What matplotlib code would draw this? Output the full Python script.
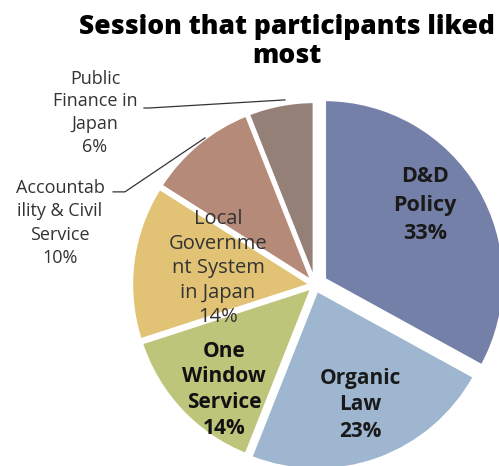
import matplotlib.pyplot as plt
import numpy as np

sessions = ["D&D Policy", "Organic Law", "One Window Service",
            "Local Government System in Japan",
            "Accountability & Civil Service", "Public Finance in Japan"]
shares = [33, 23, 14, 14, 10, 6]

colors = ["#7480a8", "#9eb6cf", "#bcc57a", "#e2c375", "#b58a78", "#958078"]
explode = [0.06, 0.03, 0.02, 0.02, 0.02, 0.02]

fig = plt.figure(figsize=(4.99, 4.66), dpi=100)
ax = fig.add_axes([0, 0, 1, 1])

wedges, _ = ax.pie(shares, colors=colors, startangle=90, counterclock=False,
                   explode=explode, radius=1.0,
                   wedgeprops=dict(edgecolor="white", linewidth=2.5))

# pie() resets the limits, so set them afterwards
ax.set_xlim(-1.75, 1.022)
ax.set_ylim(-1.006, 1.583)
ax.set_aspect("auto")
ax.axis("off")

font = "Open Sans"
# labels inside the slices
ax.text(0.611, 0.444, "D&D\nPolicy\n33%", ha="center", va="center", fontsize=15.5,
        fontweight="bold", family=font, color="#1a1a1a", linespacing=1.45)
ax.text(0.25, -0.667, "Organic\nLaw\n23%", ha="center", va="center", fontsize=15,
        fontweight="bold", family=font, color="#1a1a1a", linespacing=1.35)
ax.text(-0.506, -0.583, "One\nWindow\nService\n14%", ha="center", va="center", fontsize=15,
        fontweight="bold", family=font, color="#111111", linespacing=1.3)
ax.text(-0.539, 0.094, "Local\nGovernme\nnt System\nin Japan\n14%", ha="center", va="center",
        fontsize=14.5, family=font, color="#333333", linespacing=1.3)

# labels outside with leader lines
ax.text(-1.417, 0.344, "Accountab\nility & Civil\nService\n10%", ha="center", va="center",
        fontsize=13, family=font, color="#333333", linespacing=1.4)
ax.text(-1.222, 0.956, "Public\nFinance in\nJapan\n6%", ha="center", va="center",
        fontsize=13, family=font, color="#333333", linespacing=1.35)
ax.plot([-1.122, -1.056, -0.611], [0.517, 0.517, 0.817], color="#333333", lw=0.9)
ax.plot([-0.95, -0.92, -0.167], [0.983, 0.983, 1.028], color="#333333", lw=0.9)

fig.text(0.575, 0.91, "Session that participants liked\nmost", ha="center", va="center",
         fontsize=19, fontweight=800, family=font, linespacing=1.15)

fig.savefig("out.png", dpi=100)
